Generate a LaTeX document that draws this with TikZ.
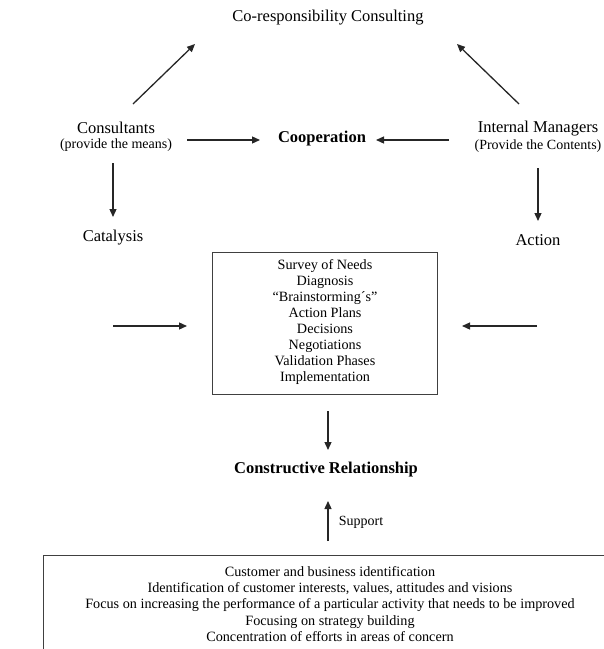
\documentclass[tikz,border=0pt]{standalone}
\usepackage{fontspec}
\setmainfont{Liberation Serif}
\usetikzlibrary{arrows.meta}
\tikzset{
  lbl/.style={inner sep=0pt, align=center, font=\fontsize{16.5}{19}\selectfont},
  sub/.style={font=\fontsize{14}{17}\selectfont},
  bld/.style={inner sep=0pt, font=\fontsize{16.5}{19}\selectfont\bfseries},
  arr/.style={line width=1.3pt, black!85, -{Triangle[length=8pt,width=7pt]}},
  boxline/.style={line width=1pt, black!75},
  boxtext/.style={inner sep=0pt, align=center, font=\fontsize{14.2}{16.1}\selectfont}
}
\begin{document}
\begin{tikzpicture}[x=1pt,y=-1pt]
\useasboundingbox (0,0) rectangle (604,649);
\clip (0,0) rectangle (604,649);
% texts
\node[lbl] (co) at (328,18) {Co-responsibility Consulting};
\node[lbl] (cons) at (116,128) {Consultants};
\node[lbl,sub] (consm) at (116,145) {(provide the means)};
\node[bld] (coop) at (322,139) {Cooperation};
\node[lbl] (im) at (538,129) {Internal Managers};
\node[lbl,sub] (imc) at (538,146) {(Provide the Contents)};
\node[lbl] (cat) at (113,238) {Catalysis};
\node[lbl] (act) at (538,240) {Action};
\node[boxline, draw, minimum width=225pt, minimum height=142pt, inner sep=0pt] (mid) at (325,323.5) {};
\node[boxtext] (midt) at (325,322) {Survey of Needs\\Diagnosis\\``Brainstorming´s''\\Action Plans\\Decisions\\Negotiations\\Validation Phases\\Implementation};
\node[bld] (cr) at (326,470) {Constructive Relationship};
\node[lbl,sub,inner sep=0pt] (sup) at (361,522) {Support};
% bottom box (cut by the page edge)
\coordinate (bl) at (43,555);
\draw[boxline] (bl) rectangle (700,720);
\node[boxtext, font=\fontsize{14.2}{16.3}\selectfont] (bott) at (330,604) {Customer and business identification\\Identification of customer interests, values, attitudes and visions\\Focus on increasing the performance of a particular activity that needs to be improved\\Focusing on strategy building\\Concentration of efforts in areas of concern};
% arrow end points
\coordinate (a1s) at (133,104); \coordinate (a1e) at (195,44);
\coordinate (a2s) at (519,104); \coordinate (a2e) at (457,44);
\coordinate (a3s) at (187,140); \coordinate (a3e) at (260,140);
\coordinate (a4s) at (449,140); \coordinate (a4e) at (376,140);
\coordinate (a5s) at (113,163); \coordinate (a5e) at (113,217);
\coordinate (a6s) at (538,168); \coordinate (a6e) at (538,221);
\coordinate (a7s) at (113,326); \coordinate (a7e) at (187,326);
\coordinate (a8s) at (537,326); \coordinate (a8e) at (462,326);
\coordinate (a9s) at (328,411); \coordinate (a9e) at (328,450);
\coordinate (a10s) at (328,541); \coordinate (a10e) at (328,501);
\foreach \i in {1,...,10} {\draw[arr] (a\i s) -- (a\i e);}
\end{tikzpicture}
\end{document}
